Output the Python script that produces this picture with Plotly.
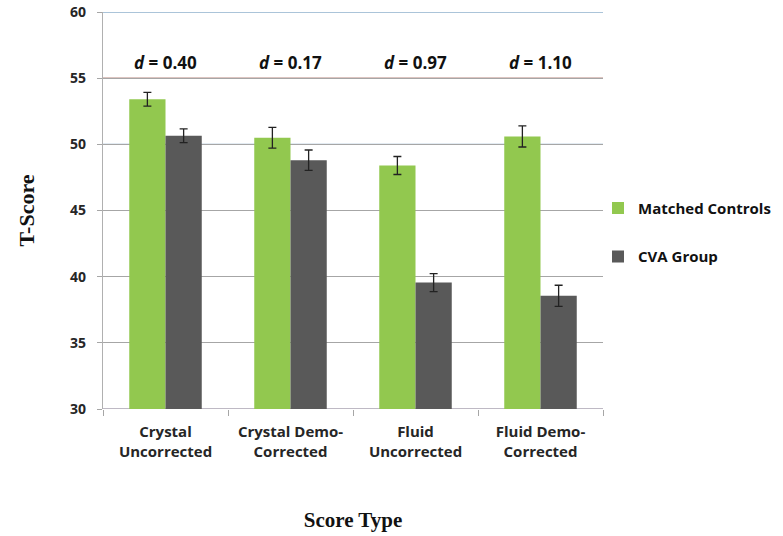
import plotly.graph_objects as go

categories = ["Crystal<br>Uncorrected", "Crystal Demo-<br>Corrected", "Fluid<br>Uncorrected", "Fluid Demo-<br>Corrected"]
controls = [53.4, 50.5, 48.4, 50.6]
controls_err = [0.52, 0.78, 0.68, 0.8]
cva = [50.65, 48.8, 39.55, 38.55]
cva_err = [0.52, 0.77, 0.68, 0.8]
effect_sizes = ["0.40", "0.17", "0.97", "1.10"]
y_ticks = [30, 35, 40, 45, 50, 55, 60]

fig = go.Figure()
fig.add_trace(go.Bar(
    x=categories, y=controls, name="Matched Controls", legendgroup="a",
    marker=dict(color="#92c84f", line=dict(width=0)),
    error_y=dict(type="data", array=controls_err, color="#222222", thickness=1.3, width=4),
))
fig.add_trace(go.Bar(
    x=categories, y=cva, name="CVA Group", legendgroup="b",
    marker=dict(color="#595959", line=dict(width=0)),
    error_y=dict(type="data", array=cva_err, color="#222222", thickness=1.3, width=4),
))

# coloured horizontal rules seen in the reference
line_colors = {60: "#8fb0cc", 55: "#b98a82", 50: "#8fb0cc", 30: "#a8a2b0"}
for yv, col in line_colors.items():
    fig.add_shape(type="line", xref="paper", yref="y", x0=0, x1=1, y0=yv, y1=yv,
                  line=dict(color=col, width=1.3), layer="below")

for cat, d in zip(categories, effect_sizes):
    fig.add_annotation(x=cat, y=56.2, xref="x", yref="y", showarrow=False,
                       text=f"<i>d</i> = {d}",
                       font=dict(family="Open Sans", size=17, color="#111111", weight="bold"))

fig.update_layout(
    width=783, height=536,
    margin=dict(l=103, r=180, t=12, b=127, autoexpand=False),
    paper_bgcolor="white", plot_bgcolor="white",
    barmode="group", bargap=0.42, bargroupgap=0,
    showlegend=True,
    legend=dict(x=0.99, y=0.445, xanchor="left", yanchor="middle",
                font=dict(family="Open Sans", size=15, color="#111111", weight="bold"),
                tracegroupgap=26, itemwidth=30, traceorder="grouped",
                bgcolor="rgba(0,0,0,0)"),
    font=dict(family="Open Sans"),
)
fig.update_xaxes(
    type="category", tickson="boundaries", ticks="outside", ticklen=6,
    tickcolor="#a6a6a6", showline=False, showgrid=False, automargin=False,
    ticklabelstandoff=12,
    tickfont=dict(family="Open Sans", size=15, color="#262626", weight="bold"),
    title=dict(text="<b>Score Type</b>", font=dict(family="Liberation Serif", size=21, color="#111111"), standoff=52),
)
fig.update_yaxes(
    range=[30, 60], tickvals=y_ticks, ticks="outside", ticklen=5, tickcolor="#a6a6a6",
    showline=True, linecolor="#b0b0b0", linewidth=1.3, automargin=False,
    showgrid=True, gridcolor="#a6a6a6", gridwidth=1, zeroline=False,
    ticklabelstandoff=8,
    tickfont=dict(family="Open Sans", size=14, color="#262626", weight="bold"),
    title=dict(text="<b>T-Score</b>", font=dict(family="Liberation Serif", size=22, color="#111111"), standoff=29),
)

fig.write_html("out.html", config={"displayModeBar": False},
               post_script="document.body.style.margin='0px';")
